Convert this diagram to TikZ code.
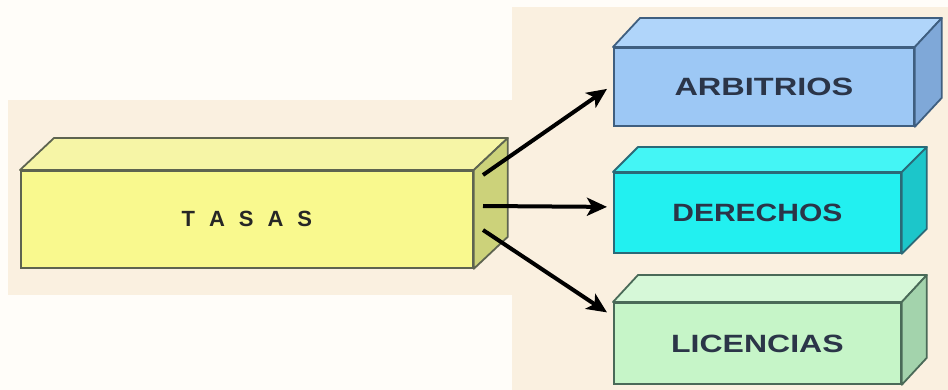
\documentclass[tikz,border=0pt]{standalone}
\usepackage{fontspec}
\setmainfont{Liberation Sans}
\usetikzlibrary{arrows.meta,calc}
\definecolor{bgwhite}{HTML}{FFFDF9}
\definecolor{beige}{HTML}{FAF0E0}
\definecolor{yfront}{HTML}{F9F98E}
\definecolor{ytop}{HTML}{F6F5A6}
\definecolor{yside}{HTML}{CCD27A}
\definecolor{yedge}{HTML}{5E6450}
\definecolor{bfront}{HTML}{9DC8F5}
\definecolor{btop}{HTML}{B0D5FA}
\definecolor{bside}{HTML}{7FA8D8}
\definecolor{bedge}{HTML}{3F5F80}
\definecolor{cfront}{HTML}{22F0F0}
\definecolor{ctop}{HTML}{44F5F5}
\definecolor{cside}{HTML}{1CC6CA}
\definecolor{cedge}{HTML}{2A6A78}
\definecolor{gfront}{HTML}{C6F5C8}
\definecolor{gtop}{HTML}{D6F8D8}
\definecolor{gside}{HTML}{A3D3AC}
\definecolor{gedge}{HTML}{4A6A58}
\definecolor{txt}{HTML}{2B3548}
\tikzset{
  front/.style={draw, line width=1.8pt, anchor=north west, inner sep=0pt,
    font=\fontsize{25}{30}\selectfont\bfseries, text=txt},
  face/.style={draw, line width=1.8pt, line join=round},
  conn/.style={draw=black, line width=4pt, -{Stealth[length=20pt,width=18pt,inset=5pt]}}
}
\newcommand{\cubefaces}[5]{%
  \draw[face, draw=#3, fill=#4] (#1.north west) -- ++(#2) -- ($(#1.north east)+(#2)$) -- (#1.north east) -- cycle;
  \draw[face, draw=#3, fill=#5] (#1.north east) -- ++(#2) -- ($(#1.south east)+(#2)$) -- (#1.south east) -- cycle;
}
\begin{document}
\begin{tikzpicture}[x=1pt,y=-1pt]
  \fill[bgwhite] (0,0) rectangle (948,390);
  \useasboundingbox (0,0) rectangle (948,390);
  \fill[beige] (8,100) rectangle (512,295);
  \fill[beige] (512,7) rectangle (948,390);
  % TASAS
  \node[front, draw=yedge, fill=yfront, minimum width=452pt, minimum height=97pt,
        font=\fontsize{22}{26}\selectfont\bfseries, text=black!85] (tasas) at (20,170)
        {T\hspace{14pt}A\hspace{14pt}S\hspace{14pt}A\hspace{14pt}S};
  \cubefaces{tasas}{34,-32}{yedge}{ytop}{yside}
  % ARBITRIOS
  \node[front, draw=bedge, fill=bfront, minimum width=300pt, minimum height=78pt] (arb) at (613,47)
        {\scalebox{1.3}[1]{ARBITRIOS}};
  \cubefaces{arb}{27,-29}{bedge}{btop}{bside}
  % DERECHOS
  \node[front, draw=cedge, fill=cfront, minimum width=287pt, minimum height=80pt] (der) at (613,172)
        {\scalebox{1.2}[1]{DERECHOS}};
  \cubefaces{der}{25,-25}{cedge}{ctop}{cside}
  % LICENCIAS
  \node[front, draw=gedge, fill=gfront, minimum width=287pt, minimum height=81pt] (lic) at (613,302)
        {\scalebox{1.28}[1]{LICENCIAS}};
  \cubefaces{lic}{25,-27}{gedge}{gtop}{gside}
  % connectors
  \coordinate (s1) at (483,175);
  \coordinate (s2) at (483,206);
  \coordinate (s3) at (483,230);
  \draw[conn] (s1) -- ([xshift=-6pt,yshift=-2pt]arb.west);
  \draw[conn] (s2) -- ([xshift=-6pt,yshift=6pt]der.west);
  \draw[conn] (s3) -- ([xshift=-6pt,yshift=31pt]lic.west);
\end{tikzpicture}
\end{document}
